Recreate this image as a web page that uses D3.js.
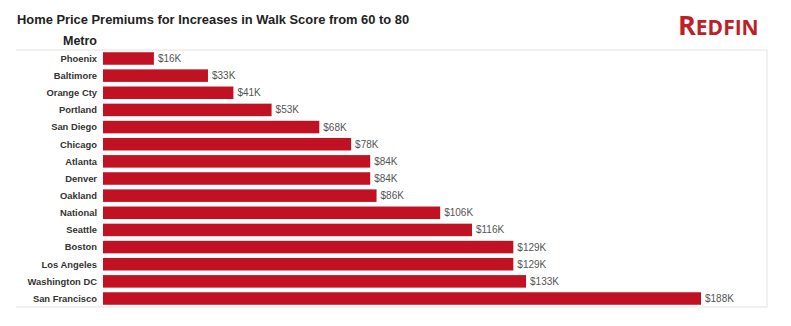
<!DOCTYPE html>
<html>
<head>
<meta charset="utf-8">
<script src="https://cdn.jsdelivr.net/npm/d3@7"></script>
<style>
  body { margin: 0; background: #fff; }
  svg { display: block; font-family: "Liberation Sans", Arial, sans-serif; }
</style>
</head>
<body>
<svg id="chart" width="791" height="326"></svg>
<script>
// metros, top to bottom
const metros = ["Phoenix", "Baltimore", "Orange Cty", "Portland", "San Diego", "Chicago", "Atlanta",
    "Denver", "Oakland", "National", "Seattle", "Boston", "Los Angeles", "Washington DC", "San Francisco"];
// premium in $K
const premiums = [16, 33, 41, 53, 68, 78, 84, 84, 86, 106, 116, 129, 129, 133, 188];
const premiumLabels = ["$16K", "$33K", "$41K", "$53K", "$68K", "$78K", "$84K", "$84K", "$86K",
    "$106K", "$116K", "$129K", "$129K", "$133K", "$188K"];

const rows = metros.map((m, i) => ({ metro: m, value: premiums[i], label: premiumLabels[i] }));

const svg = d3.select("#chart");

// frame
const frameL = 16, frameR = 767, frameT = 50, frameB = 307;
const barX0 = 103;

const x = d3.scaleLinear().domain([0, 188]).range([barX0, 701]);
const y = d3.scaleBand().domain(metros).range([frameT, frameB]).paddingInner(0.27).paddingOuter(0.13);

// title
svg.append("text")
    .attr("x", 17).attr("y", 24)
    .attr("font-size", 12.9).attr("font-weight", "bold").attr("fill", "#222")
    .text("Home Price Premiums for Increases in Walk Score from 60 to 80");

// logo
const logo = svg.append("text")
    .attr("x", 678).attr("y", 35)
    .attr("fill", "#bd2127").attr("font-weight", "bold")
    .attr("font-family", "'Open Sans', 'Liberation Sans', sans-serif");
logo.append("tspan").attr("font-size", 27).text("R");
logo.append("tspan").attr("font-size", 21).text("EDFIN");

// column header
svg.append("text")
    .attr("x", 97).attr("y", 45)
    .attr("text-anchor", "end")
    .attr("font-size", 12.5).attr("font-weight", "bold").attr("fill", "#222")
    .text("Metro");

// borders
svg.append("line").attr("x1", frameL).attr("x2", frameR).attr("y1", frameT).attr("y2", frameT)
    .attr("stroke", "#e2e2e2").attr("stroke-width", 1);
svg.append("line").attr("x1", frameL).attr("x2", frameR).attr("y1", frameB).attr("y2", frameB)
    .attr("stroke", "#e2e2e2").attr("stroke-width", 1);
svg.append("line").attr("x1", frameR).attr("x2", frameR).attr("y1", frameT).attr("y2", frameB)
    .attr("stroke", "#e2e2e2").attr("stroke-width", 1);

// y labels
svg.append("g").selectAll("text")
    .data(rows)
    .join("text")
    .attr("x", 97)
    .attr("y", d => y(d.metro) + y.bandwidth() / 2)
    .attr("dy", "0.35em")
    .attr("text-anchor", "end")
    .attr("font-size", 9.4).attr("font-weight", "bold").attr("fill", "#333")
    .text(d => d.metro);

// bars
svg.append("g").selectAll("rect")
    .data(rows)
    .join("rect")
    .attr("x", x(0))
    .attr("y", d => y(d.metro))
    .attr("width", d => x(d.value) - x(0))
    .attr("height", y.bandwidth())
    .attr("fill", "#c01222");

// value labels
svg.append("g").selectAll("text")
    .data(rows)
    .join("text")
    .attr("x", d => x(d.value) + 4)
    .attr("y", d => y(d.metro) + y.bandwidth() / 2)
    .attr("dy", "0.35em")
    .attr("font-size", 10).attr("fill", "#555")
    .text(d => d.label);
</script>
</body>
</html>
